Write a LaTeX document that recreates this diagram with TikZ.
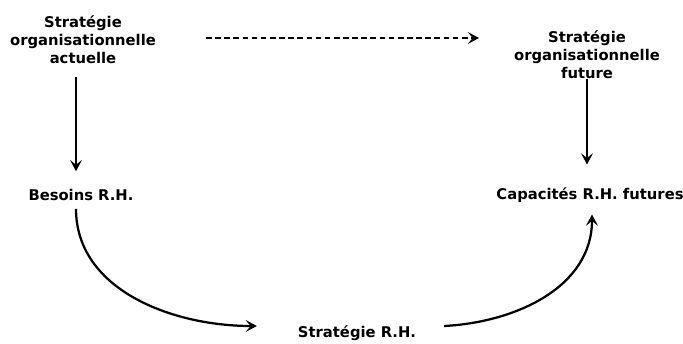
\documentclass[tikz,border=0pt]{standalone}
\usepackage{fontspec}
\setmainfont{DejaVu Sans}
\usetikzlibrary{arrows.meta}

\def\pix{0.025cm}

\begin{document}
\begin{tikzpicture}[x=0.025cm,y=-0.025cm,
	label/.style={font=\bfseries\fontsize{10.5}{12.8}\selectfont, align=center, inner sep=2pt},
	fleche/.style={line width=1.6pt, -{Stealth[length=8pt,width=8.5pt,inset=3.5pt]}}]

	\useasboundingbox (0,0) rectangle (683,343);

	\node[label] (act) at (83,40) {Stratégie\\organisationnelle\\actuelle};
	\node[label] (fut) at (587,55) {Stratégie\\organisationnelle\\future};
	\node[label] (bes) at (81,195) {Besoins R.H.};
	\node[label] (cap) at (590,195) {Capacités R.H. futures};
	\node[label] (srh) at (357,333) {Stratégie R.H.};
	
	\draw[fleche, dash pattern=on 4pt off 2.5pt, shorten <=47*\pix, shorten >=32*\pix] ([yshift=2*\pix]act.east) -- ([yshift=2*\pix]act.east -| fut.west);
	\draw[fleche, shorten <=10*\pix, shorten >=15*\pix] ([xshift=-7*\pix]act.south) -- ([xshift=-5*\pix]bes.north);
	\draw[fleche, shorten <=-3*\pix, shorten >=20*\pix] (fut.south) -- ([xshift=-3*\pix]cap.north);
	
	\draw[fleche, shorten <=5*\pix] ([xshift=-5*\pix]bes.south) to[out=-90, in=180] ([xshift=-38*\pix, yshift=7*\pix]srh.west);
	\draw[fleche] ([xshift=25*\pix, yshift=7*\pix]srh.east) to[out=3, in=-90] ([xshift=2*\pix, yshift=-9*\pix]cap.south);
	 
\end{tikzpicture}
\end{document}
